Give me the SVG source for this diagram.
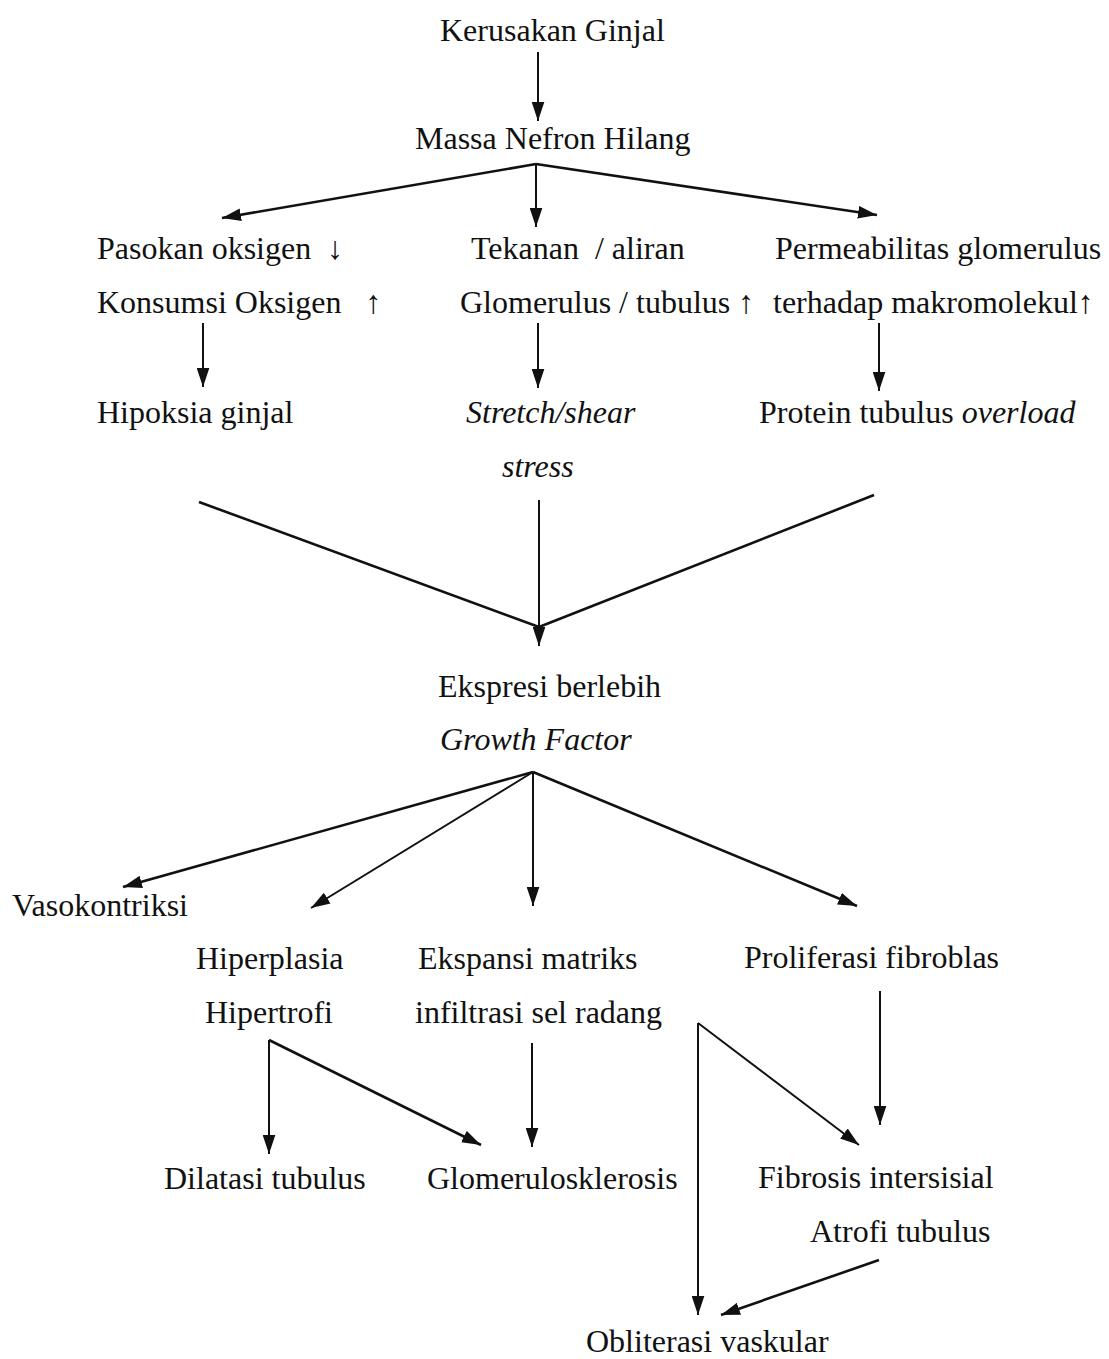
<svg xmlns="http://www.w3.org/2000/svg" width="1109" height="1359" viewBox="0 0 1109 1359">
<style>
text{font-family:"Liberation Serif","Times New Roman",serif;font-size:32px;fill:#111}
.i{font-style:italic}
.c line{stroke:#111;stroke-width:2;fill:none;marker-end:url(#ah)}
.c .n{marker-end:none}
.c .t{stroke-width:2.6}
</style>
<defs>
<marker id="ah" viewBox="0 0 18 12" refX="18" refY="6" markerWidth="19" markerHeight="13" markerUnits="userSpaceOnUse" orient="auto">
<path d="M0,0 L18,6 L0,12 z" fill="#111"/>
</marker>
</defs>
<rect width="1109" height="1359" fill="#fff"/>
<g class="c" id="connectors">
<line x1="538" y1="52" x2="538" y2="121"/>
<line class="t" x1="536" y1="164" x2="222" y2="218"/>
<line x1="536" y1="164" x2="536" y2="227"/>
<line class="t" x1="536" y1="164" x2="877" y2="215"/>
<line x1="203" y1="323" x2="203" y2="387"/>
<line x1="538" y1="323" x2="538" y2="388"/>
<line x1="879" y1="323" x2="879" y2="391"/>
<line class="n t" x1="199" y1="502" x2="539" y2="627"/>
<line class="n t" x1="874" y1="495" x2="539" y2="627"/>
<line x1="539" y1="500" x2="539" y2="646"/>
<line class="t" x1="533" y1="772" x2="123" y2="887"/>
<line x1="533" y1="772" x2="311" y2="908"/>
<line x1="533" y1="772" x2="533" y2="906"/>
<line class="t" x1="533" y1="772" x2="857" y2="906"/>
<line x1="269" y1="1040" x2="269" y2="1154"/>
<line class="t" x1="269" y1="1040" x2="481" y2="1145"/>
<line x1="532" y1="1043" x2="532" y2="1147"/>
<line x1="698" y1="1023" x2="698" y2="1315"/>
<line x1="698" y1="1023" x2="859" y2="1145"/>
<line x1="880" y1="991" x2="880" y2="1125"/>
<line class="t" x1="879" y1="1260" x2="721" y2="1315"/>
</g>
<g id="kerusakan"><text x="440" y="41">Kerusakan Ginjal</text></g>
<g id="massa"><text x="415" y="149">Massa Nefron Hilang</text></g>
<g id="pasokan"><text x="97" y="259" xml:space="preserve">Pasokan oksigen  ↓</text><text x="97" y="313" xml:space="preserve">Konsumsi Oksigen   ↑</text></g>
<g id="tekanan"><text x="471" y="259" xml:space="preserve">Tekanan  / aliran</text><text x="460" y="313">Glomerulus / tubulus ↑</text></g>
<g id="permeabilitas"><text x="775" y="259">Permeabilitas glomerulus</text><text x="773" y="313">terhadap makromolekul↑</text></g>
<g id="hipoksia"><text x="97" y="423">Hipoksia ginjal</text></g>
<g id="stretch"><text class="i" x="466" y="423">Stretch/shear</text><text class="i" x="502" y="477">stress</text></g>
<g id="protein"><text x="759" y="423">Protein tubulus <tspan class="i">overload</tspan></text></g>
<g id="ekspresi"><text x="438" y="697">Ekspresi berlebih</text><text class="i" x="440" y="750">Growth Factor</text></g>
<g id="vasokontriksi"><text x="12" y="916">Vasokontriksi</text></g>
<g id="hiperplasia"><text x="196" y="969">Hiperplasia</text><text x="205" y="1023">Hipertrofi</text></g>
<g id="ekspansi"><text x="418" y="969">Ekspansi matriks</text><text x="415" y="1023">infiltrasi sel radang</text></g>
<g id="proliferasi"><text x="744" y="968">Proliferasi fibroblas</text></g>
<g id="dilatasi"><text x="164" y="1189">Dilatasi tubulus</text></g>
<g id="glomerulosklerosis"><text x="427" y="1189">Glomerulosklerosis</text></g>
<g id="fibrosis"><text x="758" y="1188">Fibrosis intersisial</text><text x="810" y="1242">Atrofi tubulus</text></g>
<g id="obliterasi"><text x="586" y="1352">Obliterasi vaskular</text></g>
</svg>
